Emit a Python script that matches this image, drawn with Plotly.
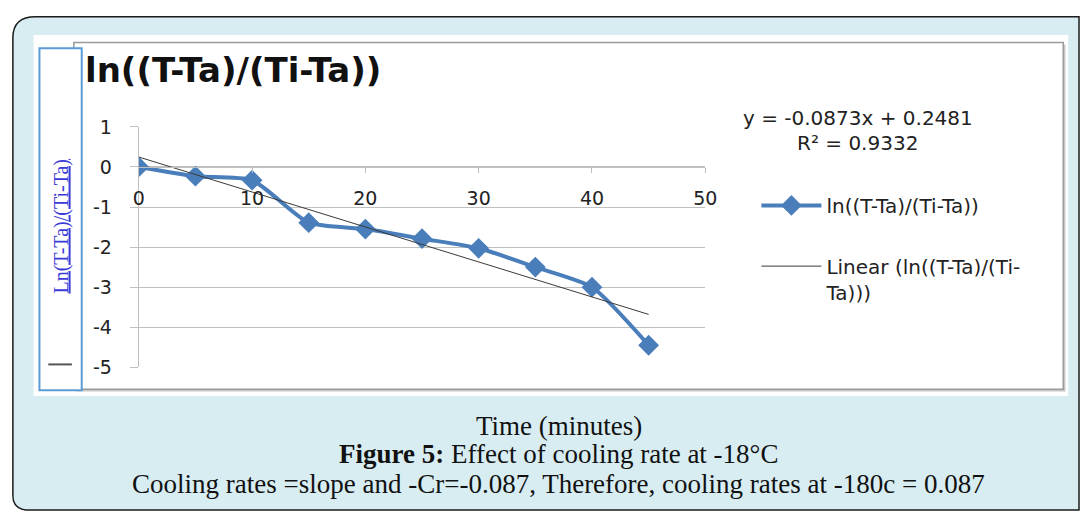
import plotly.graph_objects as go

W, H = 1091, 521

# ---- data ----
time_min = [0, 5, 10, 15, 20, 25, 30, 35, 40, 45]
ln_ratio = [0.0, -0.23, -0.33, -1.39, -1.55, -1.79, -2.03, -2.5, -3.0, -4.45]
trend_slope = -0.0873
trend_intercept = 0.2481
trend_x = [0, 45]
y_ticks = [1, 0, -1, -2, -3, -4, -5]
y_tick_text = ["1", "0", "-1", "-2", "-3", "-4", "-5"]
x_ticks = [0, 10, 20, 30, 40, 50]

def px(x):
    return x / W

def py(y):
    return 1 - y / H

BLUE = "#4a7ebb"
LIGHT = "#d8edf2"
GRID = "#bfbfbf"
TXT = "#222222"
SANS = "DejaVu Sans"
SERIF = "Liberation Serif"

fig = go.Figure()

fig.add_trace(go.Scatter(
    x=time_min, y=ln_ratio, mode="lines+markers",
    name="ln((T-Ta)/(Ti-Ta))",
    line=dict(color=BLUE, width=4, shape="spline", smoothing=0.6),
    marker=dict(symbol="diamond", size=16, color=BLUE),
    legend="legend",
))

trend_y = [trend_intercept + trend_slope * x for x in trend_x]
fig.add_trace(go.Scatter(
    x=trend_x, y=trend_y, mode="lines",
    name="Linear (ln((T-Ta)/(Ti-<br>Ta)))",
    line=dict(color="#3a3a3a", width=1),
    legend="legend2",
))

shapes = []
# outer light-blue panel with dark rounded border (top/left)
shapes.append(dict(
    type="path", xref="paper", yref="paper",
    path=(f"M {px(1091)},{py(6)} L {px(30)},{py(6)} "
          f"Q {px(7)},{py(6)} {px(7)},{py(28)} L {px(7)},{py(506)} "
          f"Q {px(7)},{py(519)} {px(20)},{py(521)} L {px(1091)},{py(521)} Z"),
    fillcolor=LIGHT, line=dict(color="#1a1a1a", width=1.5), layer="below"))
# white area
shapes.append(dict(type="rect", xref="paper", yref="paper",
                   x0=px(28), x1=px(1080), y0=py(402), y1=py(25),
                   fillcolor="white", line=dict(width=0), layer="below"))
# chart border with shadow
shapes.append(dict(type="rect", xref="paper", yref="paper",
                   x0=px(69), x1=px(1075), y0=py(395), y1=py(33),
                   line=dict(color="#9a9a9a", width=1.5), layer="below"))
shapes.append(dict(type="line", xref="paper", yref="paper",
                   x0=px(1076.5), x1=px(1076.5), y0=py(397), y1=py(35),
                   line=dict(color="#c8c8c8", width=1.5), layer="below"))
shapes.append(dict(type="line", xref="paper", yref="paper",
                   x0=px(71), x1=px(1077), y0=py(396.5), y1=py(396.5),
                   line=dict(color="#c8c8c8", width=1.5), layer="below"))
# left blue box
shapes.append(dict(type="rect", xref="paper", yref="paper",
                   x0=px(34), x1=px(77), y0=py(396), y1=py(39),
                   fillcolor="white", line=dict(color="#5b9bd5", width=2)))
shapes.append(dict(type="line", xref="paper", yref="paper",
                   x0=px(43), x1=px(67), y0=py(369), y1=py(369),
                   line=dict(color="#555555", width=2)))

CAP_X = px(562)
annotations = [
    dict(text="<b>ln((T-Ta)/(Ti-Ta))</b>", x=px(78), y=py(62), xref="paper", yref="paper",
         xanchor="left", yanchor="middle", showarrow=False,
         font=dict(family=SANS, size=34, color="#111111")),
    dict(text="<u>Ln(T-Ta)/(Ti-Ta)</u>", x=px(56), y=py(225), xref="paper", yref="paper",
         xanchor="center", yanchor="middle", showarrow=False, textangle=-90,
         font=dict(family=SERIF, size=20, color="#3b3bd6")),
    dict(text="y = -0.0873x + 0.2481", x=px(866), y=py(112), xref="paper", yref="paper",
         xanchor="center", yanchor="middle", showarrow=False,
         font=dict(family=SANS, size=20, color=TXT)),
    dict(text="R² = 0.9332", x=px(866), y=py(138), xref="paper", yref="paper",
         xanchor="center", yanchor="middle", showarrow=False,
         font=dict(family=SANS, size=20, color=TXT)),
    dict(text="Time (minutes)", x=CAP_X, y=py(433), xref="paper", yref="paper",
         xanchor="center", yanchor="middle", showarrow=False,
         font=dict(family=SERIF, size=27, color="#111111")),
    dict(text="<b>Figure 5:</b> Effect of cooling rate at -18°C", x=CAP_X, y=py(463),
         xref="paper", yref="paper", xanchor="center", yanchor="middle", showarrow=False,
         font=dict(family=SERIF, size=27, color="#111111")),
    dict(text="Cooling rates =slope and -Cr=-0.087, Therefore, cooling rates at -180c = 0.087",
         x=CAP_X, y=py(494), xref="paper", yref="paper", xanchor="center", yanchor="middle",
         showarrow=False, font=dict(family=SERIF, size=27, color="#111111")),
]

fig.update_layout(
    width=W, height=H, margin=dict(l=0, r=0, t=0, b=0),
    paper_bgcolor="white", plot_bgcolor="rgba(0,0,0,0)",
    shapes=shapes, annotations=annotations,
    xaxis=dict(domain=[px(135), px(711)], range=[0, 50], tickvals=x_ticks,
               anchor="free", position=py(163), showline=True, linecolor=GRID,
               linewidth=1.2, ticks="outside", ticklen=5, tickcolor=GRID,
               showgrid=False, zeroline=False, ticklabelstandoff=9,
               tickfont=dict(family=SANS, size=19, color=TXT)),
    yaxis=dict(domain=[py(372), py(121)], range=[-5, 1], tickvals=y_ticks,
               ticktext=y_tick_text, showline=True, linecolor=GRID, linewidth=1.2,
               ticks="outside", ticklen=8, tickcolor=GRID, showgrid=True,
               gridcolor=GRID, gridwidth=1.2, zeroline=False, ticklabelstandoff=14,
               tickfont=dict(family=SANS, size=19, color=TXT)),
    legend=dict(x=px(763), y=py(203), xanchor="left", yanchor="middle",
                bgcolor="rgba(0,0,0,0)", itemwidth=60,
                font=dict(family=SANS, size=20, color=TXT)),
    legend2=dict(x=px(763), y=py(246), xanchor="left", yanchor="top",
                 bgcolor="rgba(0,0,0,0)", valign="top", itemwidth=60,
                 font=dict(family=SANS, size=20, color=TXT)),
    showlegend=True,
)

fig.write_html(
    "out.html",
    config={"displayModeBar": False},
    post_script="document.body.style.margin='0';document.body.style.overflow='hidden';",
)
